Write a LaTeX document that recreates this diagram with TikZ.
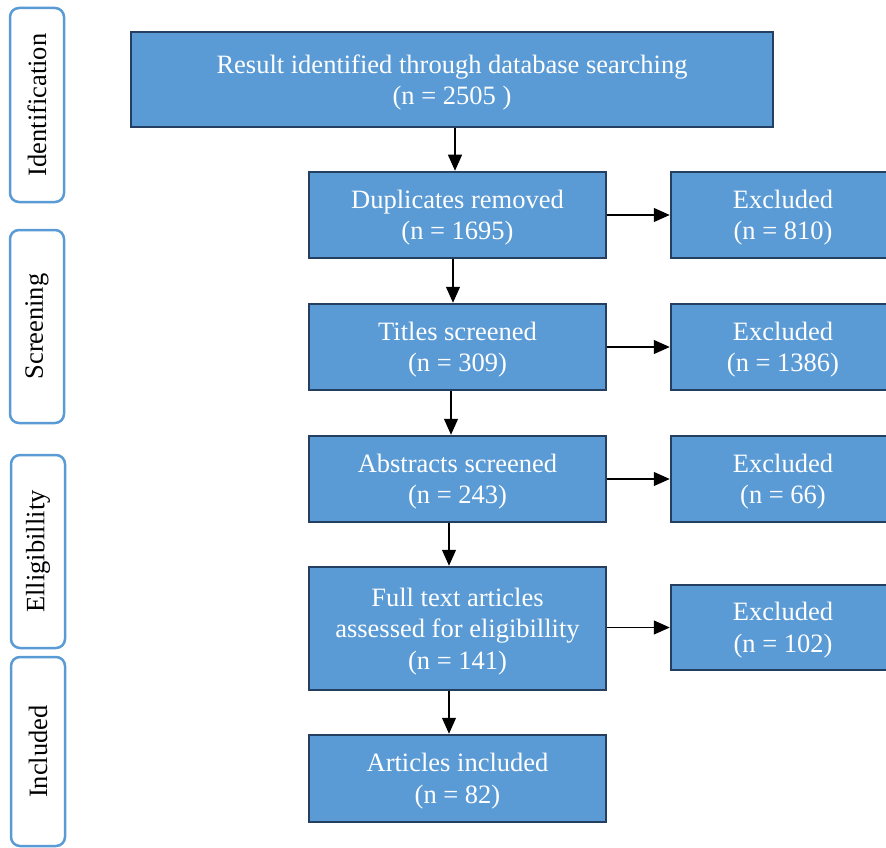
\documentclass[tikz,border=0pt]{standalone}
\usepackage{fontspec}
\setmainfont{Liberation Serif}
\usetikzlibrary{arrows.meta}
\definecolor{boxblue}{HTML}{5B9BD5}
\definecolor{boxline}{HTML}{243F60}
\begin{document}
\begin{tikzpicture}[x=1pt,y=-1pt,
font=\fontsize{26.5}{31.5}\selectfont,
box/.style={draw=boxline, line width=2.5pt, fill=boxblue, text=white, align=center, inner sep=0pt, anchor=center,
  text depth=-8pt},
step box/.style={box, minimum width=297pt, minimum height=86pt},
excl/.style={box, minimum width=224pt, minimum height=86pt},
stage/.style={draw=boxblue, line width=2.5pt, rounded corners=9pt, fill=white, minimum height=54pt, rotate=90, inner sep=0pt},
arr/.style={-{Triangle[length=16pt,width=14pt]}, line width=1.2pt}]
\useasboundingbox (0,0) rectangle (886,848);
% stages on the left
\node[stage, minimum width=194pt] (ident) at (37,105) {Identification};
\node[stage, minimum width=193pt] (screen) at (37,326.5) {Screening};
\node[stage, minimum width=193pt] (elig) at (38,551.5) {Elligibillity};
\node[stage, minimum width=189pt] (incl) at (38,751.5) {Included};
% main flow
\node[box, minimum width=642pt, minimum height=95pt] (search) at (452,79.5) {Result identified through database searching\\(n = 2505 )};
\node[step box] (dup) at (457.5,215) {Duplicates removed\\(n = 1695)};
\node[step box] (titles) at (457.5,347) {Titles screened\\(n = 309)};
\node[step box] (abstr) at (457.5,479) {Abstracts screened\\(n = 243)};
\node[step box, minimum height=123pt] (full) at (457.5,628.5) {Full text articles\\assessed for eligibillity\\(n = 141)};
\node[step box, minimum height=87pt] (incl art) at (457.5,778.5) {Articles included\\(n = 82)};
% exclusions
\node[excl] (ex1) at (783,215) {Excluded\\(n = 810)};
\node[excl] (ex2) at (783,347) {Excluded\\(n = 1386)};
\node[excl] (ex3) at (783,479) {Excluded\\(n = 66)};
\node[excl, minimum height=85pt] (ex4) at (783,627.5) {Excluded\\(n = 102)};
% arrows
\draw[arr] ([xshift=-2.5pt]search.south -| dup.north) -- ([xshift=-2.5pt]dup.north);
\draw[arr] ([xshift=-4.5pt]dup.south) -- ([xshift=-4.5pt]titles.north);
\draw[arr] ([xshift=-6.5pt]titles.south) -- ([xshift=-6.5pt]abstr.north);
\draw[arr] ([xshift=-8.5pt]abstr.south) -- ([xshift=-8.5pt]full.north);
\draw[arr] ([xshift=-8.5pt]full.south) -- ([xshift=-8.5pt]incl art.north);
\draw[arr] (dup) -- (ex1);
\draw[arr] (titles) -- (ex2);
\draw[arr] (abstr) -- (ex3);
\draw[arr] (full.east |- ex4) -- (ex4);
\end{tikzpicture}
\end{document}
